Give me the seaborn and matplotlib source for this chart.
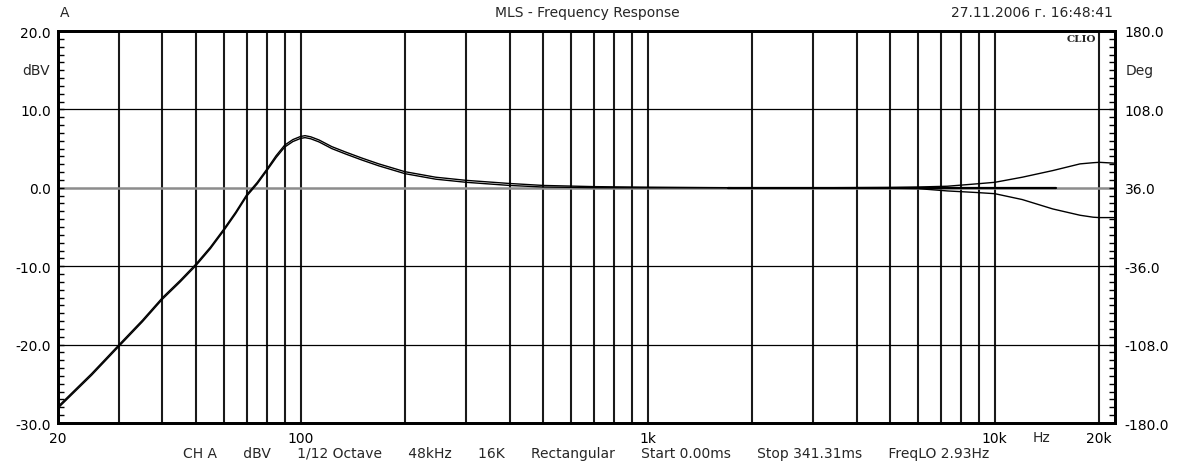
import numpy as np
import pandas as pd
import matplotlib
matplotlib.use('Agg')
import matplotlib.pyplot as plt
import seaborn as sns
from matplotlib.ticker import MultipleLocator, FixedLocator, NullFormatter

# frequency response (Hz / dBV)
freq = [20, 25, 30, 35, 40, 45, 50, 55, 60, 65, 70, 75, 80, 85, 90, 95, 100, 103, 107,
        113, 123, 135, 150, 168, 200, 245, 300, 400, 500, 700, 1000, 1500, 2000, 3000,
        5000, 6000, 7300, 8850, 10000, 12000, 14700, 17600, 19200, 20000, 22000]
trace_a = [-27.9, -23.7, -20.0, -16.9, -14.0, -11.8, -9.7, -7.55, -5.3, -3.1, -0.85, 0.7,
           2.4, 4.1, 5.45, 6.15, 6.55, 6.65, 6.5, 6.1, 5.25, 4.55, 3.8, 3.05, 2.05, 1.35,
           0.95, 0.55, 0.3, 0.15, 0.08, 0.03, 0.0, 0.0, 0.05, 0.1, 0.2, 0.5, 0.7, 1.35,
           2.2, 3.05, 3.2, 3.25, 3.15]
trace_b = [-28.1, -23.9, -20.2, -17.1, -14.2, -12.0, -9.9, -7.75, -5.5, -3.3, -1.05, 0.5,
           2.2, 3.85, 5.2, 5.9, 6.3, 6.4, 6.25, 5.85, 5.0, 4.3, 3.55, 2.8, 1.8, 1.1,
           0.7, 0.3, 0.1, 0.02, 0.0, 0.0, 0.0, 0.0, -0.05, -0.1, -0.4, -0.6, -0.75, -1.5,
           -2.7, -3.5, -3.75, -3.8, -3.8]
ref_freq = [1700, 15000]
ref_level = [0.0, 0.0]

db_ticks = [-30, -20, -10, 0, 10, 20]
deg_ticks = [-180, -108, -36, 36, 108, 180]
freq_ticks = [20, 100, 1000, 10000, 20000]
freq_labels = ['20', '100', '1k', '10k', '20k']
grid_freqs = [30, 40, 50, 60, 70, 80, 90, 200, 300, 400, 500, 600, 700, 800, 900,
              2000, 3000, 4000, 5000, 6000, 7000, 8000, 9000]

sns.set_style('white')
plt.rcParams['font.family'] = ['DejaVu Sans']
plt.rcParams['font.size'] = 10

W, H = 1184, 464
fig = plt.figure(figsize=(W / 100, H / 100), dpi=100)
ax = fig.add_axes([58 / W, 1 - 424 / H, (1115 - 58) / W, (424 - 32) / H])

df = pd.DataFrame({'freq': freq, 'a': trace_a, 'b': trace_b})
sns.lineplot(data=df, x='freq', y='a', ax=ax, color='black', lw=1.0, zorder=3)
sns.lineplot(data=df, x='freq', y='b', ax=ax, color='black', lw=1.0, zorder=3)
sns.lineplot(x=ref_freq, y=ref_level, ax=ax, color='black', lw=1.6, zorder=3)

ax.set_xscale('log')
ax.set_xlim(20, 22200)
ax.set_ylim(-30, 20)
ax.set_xticks(freq_ticks)
ax.set_xticklabels(freq_labels)
ax.xaxis.set_minor_locator(FixedLocator(grid_freqs))
ax.xaxis.set_minor_formatter(NullFormatter())
ax.set_axisbelow(True)
ax.grid(axis='x', which='both', color='#1a1a1a', lw=1.5)
ax.grid(axis='y', which='major', color='black', lw=0.9)
ax.set_yticks(db_ticks)
ax.set_yticklabels([f'{v:.1f}' for v in db_ticks])
ax.yaxis.set_minor_locator(MultipleLocator(1))
ax.tick_params(axis='y', which='both', direction='in', left=True, right=False,
               length=4, width=1, pad=5, colors='black')
ax.tick_params(axis='x', which='both', length=0, pad=6, colors='black')
ax.set_xlabel('')
ax.set_ylabel('')

# the 0 dB line is drawn grey on the analyser screen
zero_line = ax.get_ygridlines()[db_ticks.index(0)]
zero_line.set_color('#8c8c8c')
zero_line.set_linewidth(1.8)

ax2 = ax.twinx()
ax2.set_ylim(-180, 180)
ax2.set_yticks(deg_ticks)
ax2.set_yticklabels([f'{v:.1f}' for v in deg_ticks])
ax2.yaxis.set_minor_locator(MultipleLocator(7.2))
ax2.tick_params(axis='y', which='both', direction='in', length=4, width=1, pad=7,
                colors='black')
ax2.grid(False)

for a in (ax, ax2):
    for s in a.spines.values():
        s.set_color('black')
        s.set_linewidth(2)

gap = '      '
fig.text(60 / W, 1 - 13 / H, 'A', ha='left', va='center')
fig.text(587 / W, 1 - 13 / H, 'MLS - Frequency Response', ha='center', va='center')
fig.text(1113 / W, 1 - 13 / H, '27.11.2006 г. 16:48:41', ha='right', va='center')
fig.text(1081 / W, 1 - 39 / H, 'CLIO', ha='center', va='center',
         family='DejaVu Serif', weight='bold', fontsize=7.5)
fig.text(50 / W, 1 - 71 / H, 'dBV', ha='right', va='center')
fig.text(1126 / W, 1 - 71 / H, 'Deg', ha='left', va='center')
fig.text(1042 / W, 1 - 438 / H, 'Hz', ha='center', va='center')
fig.text(586 / W, 1 - 454 / H,
         gap.join(['CH A', 'dBV', '1/12 Octave', '48kHz', '16K', 'Rectangular',
                   'Start 0.00ms', 'Stop 341.31ms', 'FreqLO 2.93Hz']),
         ha='center', va='center')

fig.savefig('out.png', dpi=100)
